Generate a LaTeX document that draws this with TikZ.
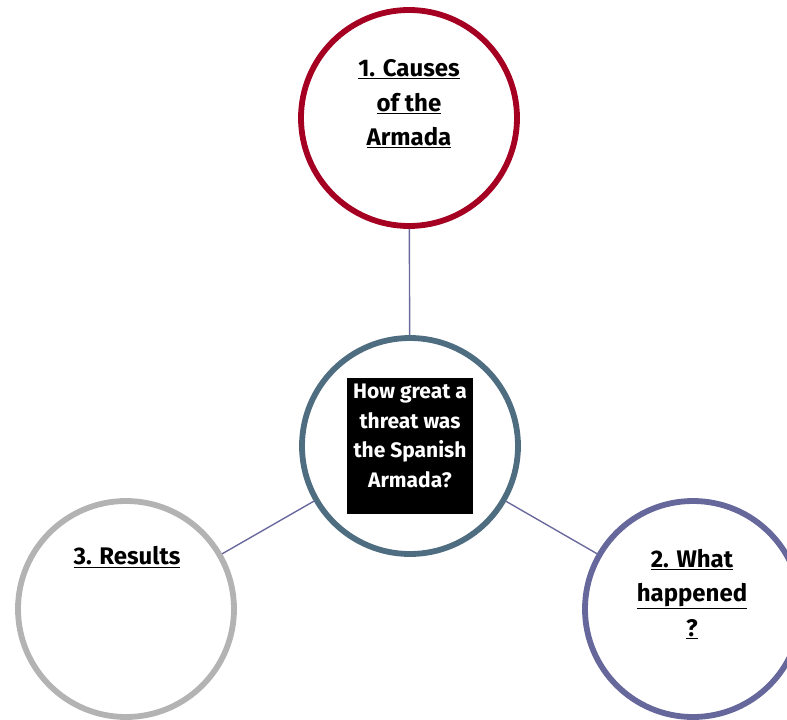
\documentclass[tikz,border=0pt]{standalone}
\usepackage{fontspec}
\setmainfont{Fira Sans}
\definecolor{cred}{HTML}{A50021}
\definecolor{cblue}{HTML}{4E6D81}
\definecolor{cpurple}{HTML}{66679B}
\definecolor{cgray}{HTML}{B3B3B3}
\definecolor{cline}{HTML}{6B6A9E}
\tikzset{
  ring/.style={circle, draw, line width=5.8pt, minimum size=216pt, inner sep=0pt, fill=white},
  conn/.style={draw=cline, line width=1.4pt},
  lbl/.style={align=center, font=\fontsize{24}{34.5}\selectfont\bfseries, text=black},
  qbox/.style={fill=black, minimum width=126pt, minimum height=136pt, inner sep=0pt},
  qtext/.style={text=white, align=center, font=\fontsize{21}{29.5}\selectfont\bfseries, inner sep=0pt}
}
\begin{document}
\begin{tikzpicture}[x=1pt,y=-1pt]
\useasboundingbox (0,0) rectangle (787,720);
\clip (0,0) rectangle (787,720);
\node[ring, draw=cred] (top) at (409,118) {};
\node[ring, draw=cblue] (mid) at (410,446) {};
\node[ring, draw=cgray] (left) at (126,609) {};
\node[ring, draw=cpurple] (right) at (693,609) {};
\draw[conn] (top) -- (mid);
\draw[conn] (mid) -- (left);
\draw[conn] (mid) -- (right);
\node[lbl] (tl) at (409,104) {\underline{1. Causes}\\\underline{of the}\\\underline{Armada}};
\node[qbox] (q) at (410,446) {};
\node[qtext] (qt) at (410,436) {How great a\\threat was\\the Spanish\\Armada?};
\node[lbl] (ll) at (127,557) {\underline{3. Results}};
\node[lbl] (rl) at (692,594) {\underline{2. What}\\\underline{happened}\\\underline{?}};
\end{tikzpicture}
\end{document}
